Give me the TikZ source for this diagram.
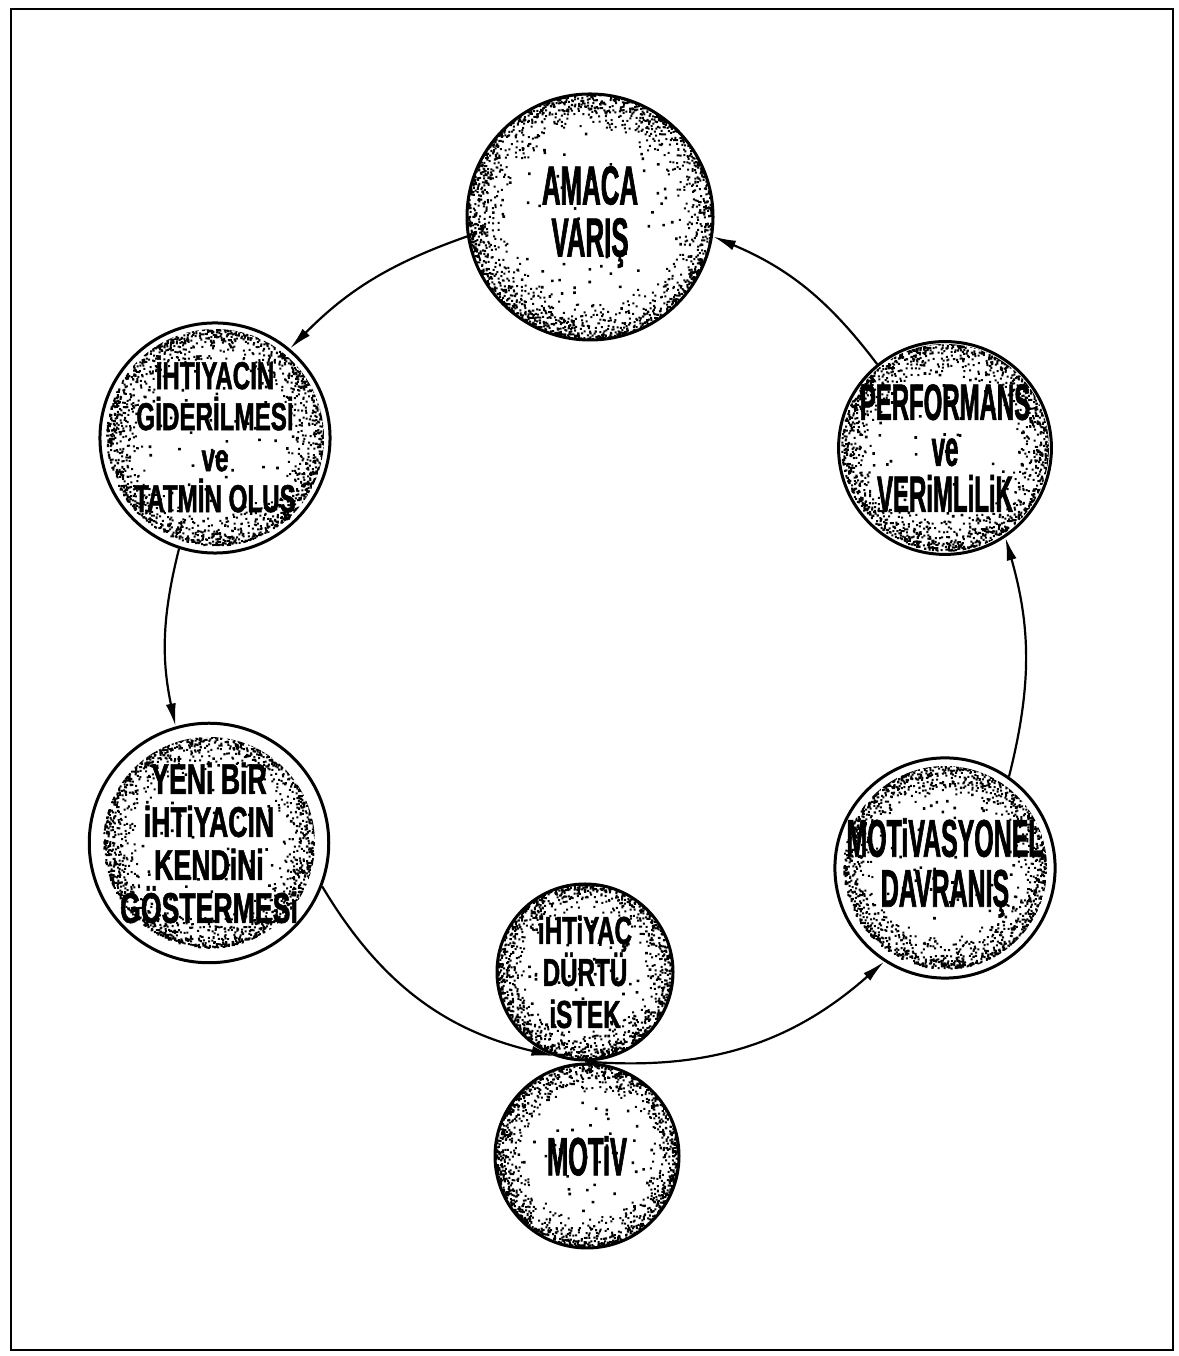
\documentclass[tikz,border=0pt]{standalone}
\usepackage{fontspec}
\usetikzlibrary{arrows.meta,backgrounds}
\newfontfamily\condfont[FakeStretch=0.47,FakeBold=1.2]{Liberation Sans}
\newfontfamily\widefont[FakeStretch=0.62,FakeBold=1.2]{Liberation Sans}

% speckled fill of a round stage, dense at the rim
\newcommand\stipple[2]{%
  \begin{scope}
    \clip (#1) circle (#2);
    \pgfmathtruncatemacro\rimcount{15*#2}
    \pgfmathtruncatemacro\midcount{0.5*#2}
    \fill[shift={(#1)}] foreach \k [evaluate=\k as \dota using 360*rnd,
        evaluate=\k as \dotr using #2*(1-0.32*rnd*rnd)] in {1,...,\rimcount}
      {(\dota:\dotr) rectangle ++(2,2)};
    \fill[shift={(#1)}] foreach \k [evaluate=\k as \dota using 360*rnd,
        evaluate=\k as \dotr using #2*0.8*sqrt(rnd)] in {1,...,\midcount}
      {(\dota:\dotr) rectangle ++(2.6,2.6)};
  \end{scope}}

\begin{document}
\begin{tikzpicture}[x=1pt,y=1pt,
  stage/.style={circle, draw, line width=3pt, inner sep=0pt, align=center},
  flow/.style={-{Latex[length=23pt,width=10pt]}, line width=2.2pt}]
  \useasboundingbox (0,0) rectangle (1178,1356);
  \pgfmathsetseed{7}

  % frame
  \draw[line width=2pt] (11,6) rectangle (1173,1347);

  % stages of the cycle
  \node[stage, minimum size=246, font=\condfont\bfseries\fontsize{55}{52}\selectfont] (amaca) at (590,1139) {AMACA\\VARIŞ};
  \node[stage, minimum size=218, font=\widefont\bfseries\fontsize{39}{41}\selectfont] (ihtiyacin) at (215,918) {İHTİYACIN\\GİDERİLMESİ\\ve\\TATMİN OLUŞ};
  \node[stage, minimum size=208, font=\condfont\bfseries\fontsize{51}{46}\selectfont] (performans) at (945,908) {PERFORMANS\\ve\\VERiMLiLiK};
  \node[stage, minimum size=212, font=\widefont\bfseries\fontsize{43}{43}\selectfont] (yeni) at (209,513) {YENi BiR\\iHTiYACIN\\KENDiNi\\GÖSTERMESi};
  \node[stage, minimum size=204, font=\condfont\bfseries\fontsize{53}{50}\selectfont] (motivasyonel) at (945,488) {MOTiVASYONEL\\DAVRANIŞ};
  \node[stage, minimum size=176, font=\widefont\bfseries\fontsize{39}{42}\selectfont] (ihtiyac) at (585,384) {iHTiYAÇ\\DÜRTÜ\\iSTEK};
  \node[stage, minimum size=184, font=\condfont\bfseries\fontsize{54}{50}\selectfont] (motiv) at (587,200) {MOTiV};

  % speckles behind the text
  \begin{pgfonlayer}{background}
    \foreach \nd/\rd in {amaca/123, ihtiyacin/109, performans/104, yeni/106, motivasyonel/102, ihtiyac/88, motiv/92}
      {\stipple{\nd}{\rd}}
  \end{pgfonlayer}

  % the cycle
  \draw[flow] (amaca.189) to[bend right=13] (ihtiyacin.50);
  \draw[flow] (ihtiyacin.252) to[bend right=13] (yeni.106);
  \draw[flow] (yeni.339) to[bend right=23] (ihtiyac.250);
  \draw[flow] (ihtiyac.south) to[bend right=23] (motivasyonel.237);
  \draw[flow] (motivasyonel.55) to[bend right=15] (performans.304);
  \draw[flow] (performans.129) to[bend right=15] (amaca.351);
\end{tikzpicture}
\end{document}
